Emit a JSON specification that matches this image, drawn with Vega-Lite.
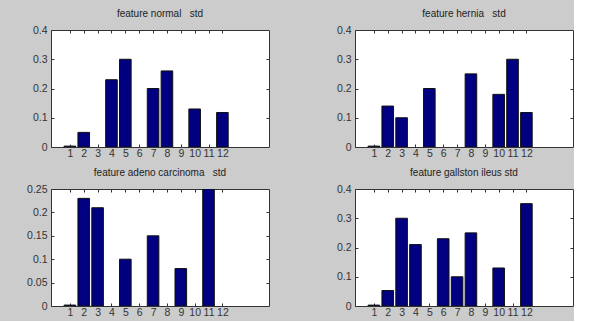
{
  "$schema": "https://vega.github.io/schema/vega-lite/v6.json",
  "background": "#cccccc",
  "padding": {"left": 20, "top": 8, "right": 0, "bottom": 0},
  "spacing": {"row": 5, "column": 54},
  "columns": 2,
  "datasets": {
    "normal": [
      {"feature": 1, "std": 0.003}, {"feature": 2, "std": 0.05}, {"feature": 4, "std": 0.23},
      {"feature": 5, "std": 0.30}, {"feature": 7, "std": 0.20}, {"feature": 8, "std": 0.26},
      {"feature": 10, "std": 0.13}, {"feature": 12, "std": 0.118}
    ],
    "hernia": [
      {"feature": 1, "std": 0.003}, {"feature": 2, "std": 0.14}, {"feature": 3, "std": 0.10},
      {"feature": 5, "std": 0.20}, {"feature": 8, "std": 0.25}, {"feature": 10, "std": 0.18},
      {"feature": 11, "std": 0.30}, {"feature": 12, "std": 0.118}
    ],
    "adeno": [
      {"feature": 1, "std": 0.002}, {"feature": 2, "std": 0.23}, {"feature": 3, "std": 0.21},
      {"feature": 5, "std": 0.10}, {"feature": 7, "std": 0.15}, {"feature": 9, "std": 0.08},
      {"feature": 11, "std": 0.25}
    ],
    "gallston": [
      {"feature": 1, "std": 0.003}, {"feature": 2, "std": 0.053}, {"feature": 3, "std": 0.30},
      {"feature": 4, "std": 0.21}, {"feature": 6, "std": 0.23}, {"feature": 7, "std": 0.10},
      {"feature": 8, "std": 0.25}, {"feature": 10, "std": 0.13}, {"feature": 12, "std": 0.35}
    ]
  },
  "config": {
    "font": "Liberation Sans",
    "view": {"stroke": "#333333", "strokeWidth": 1, "fill": "white"},
    "title": {"fontSize": 10, "fontWeight": "normal", "color": "#222222", "offset": 6, "font": "Liberation Sans"},
    "axis": {
      "domain": false, "grid": false, "tickSize": -3, "tickColor": "#333333",
      "labelFontSize": 10.5, "labelColor": "#333333", "labelPadding": 7, "title": null
    },
    "axisBottom": {"minExtent": 14, "maxExtent": 14, "labelPadding": 4},
    "axisLeft": {"minExtent": 30, "maxExtent": 30},
    "axisTop": {"minExtent": 0, "maxExtent": 0, "labels": false},
    "axisRight": {"minExtent": 0, "maxExtent": 0, "labels": false},
    "bar": {"color": "#000080", "stroke": "#111111", "strokeWidth": 1, "width": 11.6}
  },
  "concat": [
    {
      "title": "feature normal\u00a0\u00a0 std",
      "width": 218, "height": 117,
      "data": {"name": "normal"},
      "resolve": {"axis": {"x": "independent", "y": "independent"}},
      "layer": [
        {
          "mark": {"type": "bar", "clip": true},
          "encoding": {
            "x": {"field": "feature", "type": "quantitative", "scale": {"domain": [0, 15], "nice": false}, "axis": {"orient": "bottom", "values": [1,2,3,4,5,6,7,8,9,10,11,12], "format": "d"}},
            "y": {"field": "std", "type": "quantitative", "scale": {"domain": [0, 0.4], "nice": false}, "axis": {"orient": "left", "values": [0, 0.1, 0.2, 0.3, 0.4], "format": "~g"}}
          }
        },
        {
          "mark": {"type": "point", "opacity": 0},
          "encoding": {
            "x": {"field": "feature", "type": "quantitative", "axis": {"orient": "top", "values": [1,2,3,4,5,6,7,8,9,10,11,12]}},
            "y": {"field": "std", "type": "quantitative", "axis": {"orient": "right", "values": [0.1, 0.2, 0.3]}}
          }
        }
      ]
    },
    {
      "title": "feature hernia\u00a0\u00a0 std",
      "width": 218, "height": 117,
      "data": {"name": "hernia"},
      "resolve": {"axis": {"x": "independent", "y": "independent"}},
      "layer": [
        {
          "mark": {"type": "bar", "clip": true},
          "encoding": {
            "x": {"field": "feature", "type": "quantitative", "scale": {"domain": [0, 15], "nice": false}, "axis": {"orient": "bottom", "values": [1,2,3,4,5,6,7,8,9,10,11,12], "format": "d"}},
            "y": {"field": "std", "type": "quantitative", "scale": {"domain": [0, 0.4], "nice": false}, "axis": {"orient": "left", "values": [0, 0.1, 0.2, 0.3, 0.4], "format": "~g"}}
          }
        },
        {
          "mark": {"type": "point", "opacity": 0},
          "encoding": {
            "x": {"field": "feature", "type": "quantitative", "axis": {"orient": "top", "values": [1,2,3,4,5,6,7,8,9,10,11,12]}},
            "y": {"field": "std", "type": "quantitative", "axis": {"orient": "right", "values": [0.1, 0.2, 0.3]}}
          }
        }
      ]
    },
    {
      "title": "feature adeno carcinoma\u00a0\u00a0 std",
      "width": 218, "height": 117,
      "data": {"name": "adeno"},
      "resolve": {"axis": {"x": "independent", "y": "independent"}},
      "layer": [
        {
          "mark": {"type": "bar", "clip": true},
          "encoding": {
            "x": {"field": "feature", "type": "quantitative", "scale": {"domain": [0, 15], "nice": false}, "axis": {"orient": "bottom", "values": [1,2,3,4,5,6,7,8,9,10,11,12], "format": "d"}},
            "y": {"field": "std", "type": "quantitative", "scale": {"domain": [0, 0.25], "nice": false}, "axis": {"orient": "left", "values": [0, 0.05, 0.1, 0.15, 0.2, 0.25], "format": "~g"}}
          }
        },
        {
          "mark": {"type": "point", "opacity": 0},
          "encoding": {
            "x": {"field": "feature", "type": "quantitative", "axis": {"orient": "top", "values": [1,2,3,4,5,6,7,8,9,10,11,12]}},
            "y": {"field": "std", "type": "quantitative", "axis": {"orient": "right", "values": [0.05, 0.1, 0.15, 0.2]}}
          }
        }
      ]
    },
    {
      "title": "feature gallston ileus std",
      "width": 218, "height": 117,
      "data": {"name": "gallston"},
      "resolve": {"axis": {"x": "independent", "y": "independent"}},
      "layer": [
        {
          "mark": {"type": "bar", "clip": true},
          "encoding": {
            "x": {"field": "feature", "type": "quantitative", "scale": {"domain": [0, 15], "nice": false}, "axis": {"orient": "bottom", "values": [1,2,3,4,5,6,7,8,9,10,11,12], "format": "d"}},
            "y": {"field": "std", "type": "quantitative", "scale": {"domain": [0, 0.4], "nice": false}, "axis": {"orient": "left", "values": [0, 0.1, 0.2, 0.3, 0.4], "format": "~g"}}
          }
        },
        {
          "mark": {"type": "point", "opacity": 0},
          "encoding": {
            "x": {"field": "feature", "type": "quantitative", "axis": {"orient": "top", "values": [1,2,3,4,5,6,7,8,9,10,11,12]}},
            "y": {"field": "std", "type": "quantitative", "axis": {"orient": "right", "values": [0.1, 0.2, 0.3]}}
          }
        }
      ]
    }
  ]
}
